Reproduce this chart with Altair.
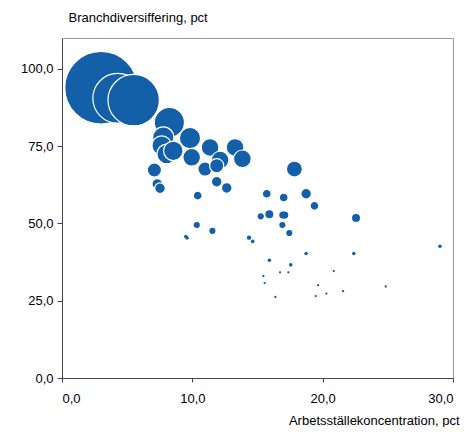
import altair as alt
import pandas as pd

# Arbetsställekoncentration (x), Branchdiversiffering (y), bubble weight
conc = [3.0, 4.27, 5.5, 8.24, 7.77, 9.82, 7.65, 8.03, 8.54, 9.95, 11.36, 13.28, 12.13, 13.84,
        10.97, 11.87, 7.09, 17.83, 7.31, 7.52, 11.87, 12.64, 10.41, 15.71, 17.01, 18.73, 19.37,
        15.25, 15.91, 16.94, 17.09, 16.91, 17.44, 22.56, 10.34, 11.54, 9.5, 9.6, 14.35, 14.63,
        15.91, 17.55, 18.73, 22.39, 29.0, 15.45, 15.55, 16.73, 17.37, 16.37, 19.65, 19.47,
        20.29, 20.85, 21.57, 24.84]
divers = [93.9, 90.5, 89.9, 82.7, 77.8, 77.6, 75.2, 72.5, 73.5, 71.4, 74.6, 74.6, 70.5, 70.9,
          67.6, 68.7, 67.3, 67.6, 62.8, 61.4, 63.5, 61.5, 59.0, 59.6, 58.4, 59.6, 55.7,
          52.3, 53.0, 52.7, 52.7, 49.5, 46.9, 51.8, 49.5, 47.6, 45.8, 45.3, 45.4, 44.2,
          38.1, 36.6, 40.3, 40.3, 42.6, 33.0, 30.7, 34.2, 34.2, 26.2, 30.0, 26.5,
          27.3, 34.6, 28.1, 29.6]
weight = [1681, 784, 841, 289, 144, 144, 121, 121, 121, 100, 100, 100, 100, 100,
          64, 64, 64, 81, 36, 36, 36, 36, 25, 25, 25, 36, 25,
          12, 20, 16, 16, 12, 12, 20, 12, 12, 4, 4, 6, 4,
          4, 4, 4, 4, 4, 1.7, 1.7, 1.7, 1.7, 1.7, 1.7, 1.7,
          1.7, 1.7, 1.7, 1.7]

df = pd.DataFrame({"x": conc, "y": divers, "w": weight})
df["ord"] = range(len(df))

fmt = "replace(format(datum.value, '.1f'), '.', ',')"

chart = alt.Chart(df).mark_circle(opacity=1, color="#1460a8", stroke="white").encode(
    x=alt.X("x:Q", scale=alt.Scale(domain=[0, 30], nice=False),
            axis=alt.Axis(values=[0, 10, 20, 30], labelExpr=fmt, grid=False,
                          title="Arbetsställekoncentration, pct",
                          titleAngle=0, titleAlign="right", titleBaseline="alphabetic",
                          titleX=397, titleY=46, titleFontWeight="normal",
                          labelPadding=10, tickSize=4)),
    y=alt.Y("y:Q", scale=alt.Scale(domain=[0, 110], nice=False),
            axis=alt.Axis(values=[0, 25, 50, 75, 100], labelExpr=fmt, grid=False,
                          title="Branchdiversiffering, pct",
                          titleAngle=0, titleAlign="left", titleBaseline="middle",
                          titleX=6, titleY=-21, titleFontWeight="normal",
                          labelPadding=4, tickSize=5)),
    size=alt.Size("w:Q", scale=alt.Scale(type="linear", domain=[0, 1681], range=[0, 5281]),
                  legend=None),
    strokeWidth=alt.condition("datum.w > 20", alt.value(1.2), alt.value(0)),
    order=alt.Order("ord:Q"),
).properties(
    width=391, height=340,
    autosize=alt.AutoSizeParams(type="none"),
    padding={"left": 54, "top": 30, "right": 7, "bottom": 49},
).configure_view(
    stroke="#999999", strokeWidth=1
).configure_axis(
    labelFont="Liberation Sans", titleFont="Liberation Sans",
    labelFontSize=13, titleFontSize=13, labelColor="#000000", titleColor="#000000",
    domainColor="#444444", tickColor="#444444", domainWidth=1
)

chart.save("out.html", embed_options={"renderer": "svg", "actions": False})
